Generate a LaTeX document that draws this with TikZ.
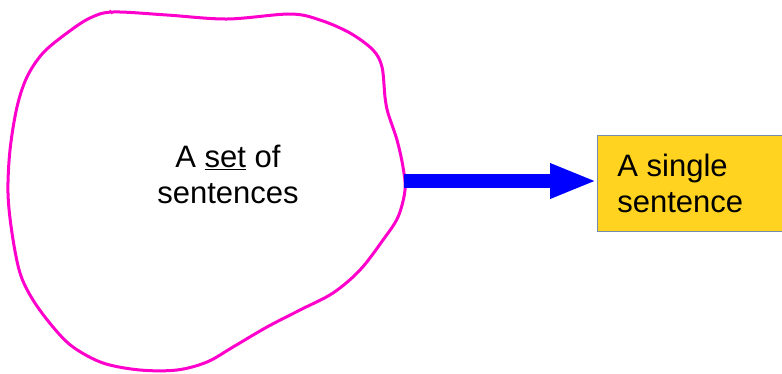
\documentclass[tikz,border=0pt]{standalone}
\usepackage{fontspec}
\setmainfont{Liberation Sans}
\usetikzlibrary{positioning}
\usetikzlibrary{arrows.meta}
\definecolor{blobPink}{RGB}{255,0,204}
\definecolor{boxYellow}{RGB}{255,211,32}
\definecolor{boxEdge}{RGB}{114,140,170}
\tikzset{%
	% Specifications for style of nodes:
	base/.style = {rectangle, inner sep=0pt, align=flush center,
		font=\fontsize{31pt}{36pt}\selectfont},
	blobline/.style = {draw=blobPink, line width=3pt},
	single/.style = {base, draw=boxEdge, fill=boxYellow, line width=0.8pt,
		align=flush left, inner xsep=20pt, text width=200pt, minimum height=96pt},
	bigArrow/.style = {draw=blue, line width=14pt,
		-{Triangle[length=47pt, width=32pt]}}
}

\begin{document}
\begin{tikzpicture}[x=1pt, y=-1pt]
	\useasboundingbox (0,0) rectangle (782,373);
	\draw[blobline] plot[smooth cycle, tension=0.55] coordinates {
		(113,12) (167,15) (227,19) (290,14) (320,20) (350,33) (373,50)
		(382,67) (385,97) (388,113) (397,140) (403,167) (405,190) (398,217)
		(383,240) (360,270) (333,293) (300,310) (267,327) (233,347) (207,362)
		(177,370) (140,370) (103,363) (73,347) (53,327) (33,300) (20,273)
		(12,233) (8,193) (10,150) (17,107) (27,77) (43,53) (67,33) (90,18)};
	\draw[blobPink, line width=1.5pt] (110,10) -- (112,14);
	\node (setText) [base] at (228,174) {A \underline{set} of\\sentences};
	\coordinate (blobEast) at (404,181);
	\node (singleSentence) [single, anchor=north west] at (597,135) {A single\\sentence};
	\draw[bigArrow] (blobEast) -- (blobEast -| singleSentence.west);
\end{tikzpicture}
\end{document}
